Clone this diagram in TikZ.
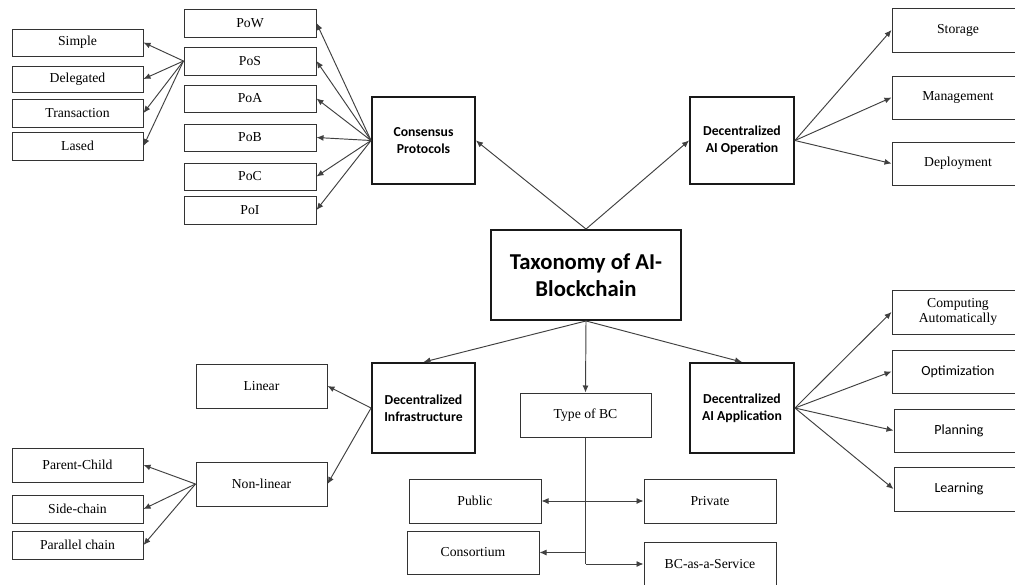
\documentclass[tikz,border=0pt]{standalone}
\usepackage{fontspec}
\setmainfont{Liberation Serif}
\newfontfamily\calib{Carlito}
\usetikzlibrary{arrows.meta}
\tikzset{
  leaf/.style={draw=black!80, line width=1pt, inner sep=0pt, align=center,
    font=\fontsize{13.7}{15}\selectfont},
  sleaf/.style={leaf, font=\calib\fontsize{14}{16}\selectfont},
  hub/.style={draw=black!90, line width=1.9pt, inner sep=0pt, align=center,
    font=\calib\bfseries\fontsize{13.7}{17}\selectfont},
  conn/.style={draw=black!75, line width=0.95pt, -{Latex[length=7pt,width=6pt]}},
}
\begin{document}
\begin{tikzpicture}[x=1pt,y=-1pt]
\useasboundingbox (0,0) rectangle (1015,584);
\clip (0,0) rectangle (1015,584);
% consensus branch
\node[leaf, minimum width=132pt, minimum height=28pt] (pow) at (250,23) {PoW};
\node[leaf, minimum width=132pt, minimum height=28pt] (pos) at (250,61) {PoS};
\node[leaf, minimum width=132pt, minimum height=27pt] (poa) at (250,98.5) {PoA};
\node[leaf, minimum width=132pt, minimum height=27pt] (pob) at (250,137.5) {PoB};
\node[leaf, minimum width=132pt, minimum height=27pt] (poc) at (250,176.5) {PoC};
\node[leaf, minimum width=132pt, minimum height=28pt] (poi) at (250,210) {PoI};
\node[leaf, minimum width=131pt, minimum height=27pt] (simple) at (77.5,42.5) {Simple};
\node[leaf, minimum width=131pt, minimum height=26pt] (delegated) at (77.5,79) {Delegated};
\node[leaf, minimum width=131pt, minimum height=28pt] (transaction) at (77.5,113) {Transaction};
\node[leaf, minimum width=131pt, minimum height=28pt] (lased) at (77.5,146) {Lased};
\node[hub, minimum width=103pt, minimum height=87pt] (consensus) at (423.5,140.5) {Consensus\\Protocols};
% operation branch
\node[hub, minimum width=104pt, minimum height=87pt] (op) at (742,140.5) {Decentralized\\AI Operation};
\node[leaf, minimum width=132pt, minimum height=44pt] (storage) at (958,30) {Storage};
\node[leaf, minimum width=132pt, minimum height=43pt] (management) at (958,97.5) {Management};
\node[leaf, minimum width=132pt, minimum height=43pt] (deployment) at (958,163.5) {Deployment};
% centre
\node[hub, minimum width=190pt, minimum height=90pt,
  font=\calib\bfseries\fontsize{22.7}{27}\selectfont] (tax) at (586,275) {Taxonomy of AI-\\Blockchain};
% infrastructure branch
\node[hub, minimum width=103pt, minimum height=90pt] (infra) at (423.5,408) {Decentralized\\Infrastructure};
\node[leaf, minimum width=131pt, minimum height=44pt] (linear) at (261.5,386) {Linear};
\node[leaf, minimum width=131pt, minimum height=44pt] (nonlinear) at (261.5,484) {Non-linear};
\node[leaf, minimum width=131pt, minimum height=34pt] (parent) at (77.5,465) {Parent-Child};
\node[leaf, minimum width=131pt, minimum height=28pt] (side) at (77.5,509) {Side-chain};
\node[leaf, minimum width=131pt, minimum height=28pt] (parallel) at (77.5,545) {Parallel chain};
% type of BC
\node[leaf, minimum width=131pt, minimum height=44pt] (typebc) at (585.5,415) {Type of BC};
\node[leaf, minimum width=132pt, minimum height=44pt] (public) at (475,501) {Public};
\node[leaf, minimum width=132pt, minimum height=44pt] (private) at (710,501) {Private};
\node[leaf, minimum width=132pt, minimum height=43pt] (consortium) at (473,552.5) {Consortium};
\node[leaf, minimum width=132pt, minimum height=44pt] (baas) at (710,564) {BC-as-a-Service};
% application branch
\node[hub, minimum width=104pt, minimum height=90pt] (app) at (742,408) {Decentralized\\AI Application};
\node[leaf, minimum width=132pt, minimum height=44pt] (computing) at (958,312) {Computing\\Automatically};
\node[sleaf, minimum width=132pt, minimum height=43pt] (optimization) at (958,371.5) {Optimization};
\node[sleaf, minimum width=130pt, minimum height=43pt] (planning) at (959,430.5) {Planning};
\node[sleaf, minimum width=130pt, minimum height=44pt] (learning) at (959,489) {Learning};
% connectors
\foreach \t in {pow,pos,poa,pob,poc,poi} \draw[conn] (consensus.west) -- (\t.east);
\foreach \t in {simple,delegated,transaction,lased} \draw[conn] (pos.west) -- (\t.east);
\foreach \t in {storage,management,deployment} \draw[conn] (op.east) -- (\t.west);
\foreach \t in {computing,optimization,planning,learning} \draw[conn] (app.east) -- (\t.west);
\draw[conn] (tax.north) -- (consensus.east);
\draw[conn] (tax.north) -- (op.west);
\draw[conn] (tax.south) -- (infra.north);
\draw[conn] (tax.south) -- (typebc.north);
\draw[conn] (tax.south) -- (app.north);
\draw[conn] (infra.west) -- (linear.east);
\draw[conn] (infra.west) -- (nonlinear.east);
\foreach \t in {parent,side,parallel} \draw[conn] (nonlinear.west) -- (\t.east);
\coordinate (bcjoin) at (typebc.south |- baas.west);
\coordinate (conjoin) at (typebc.south |- consortium.east);
\draw[conn, -] (typebc.south) -- (bcjoin);
\draw[conn] (bcjoin) -- (baas.west);
\draw[conn] (conjoin) -- (consortium.east);
\draw[conn, {Latex[length=7pt,width=6pt]}-{Latex[length=7pt,width=6pt]}] (public.east) -- (private.west);
\end{tikzpicture}
\end{document}
